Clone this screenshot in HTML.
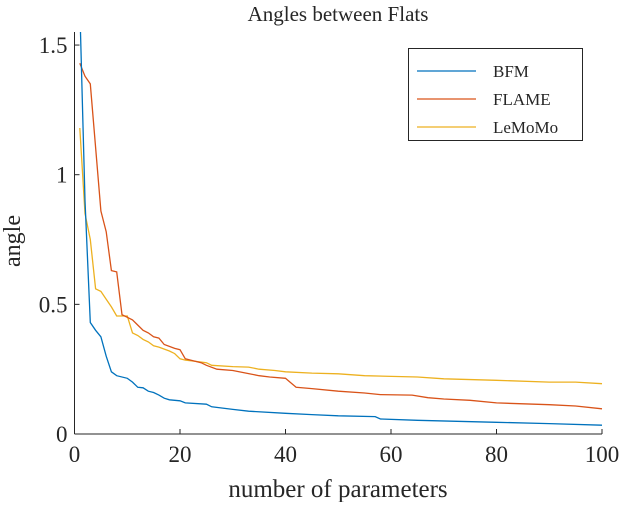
<!DOCTYPE html>
<html><head><meta charset="utf-8"><style>
body{margin:0;background:#fff}
svg text{font-family:"Liberation Serif","DejaVu Serif",serif;fill:#262626}
</style></head><body>
<svg id="chart" width="620" height="502" xmlns="http://www.w3.org/2000/svg">
<defs><clipPath id="plotclip"><rect x="74" y="32" width="530" height="404"/></clipPath></defs>
<text x="338" y="21" font-size="21" text-anchor="middle">Angles between Flats</text>
<g id="axes"></g>
<g id="series" clip-path="url(#plotclip)"></g>
<text x="338" y="497" font-size="25" text-anchor="middle">number of parameters</text>
<text x="20" y="241" font-size="24" text-anchor="middle" transform="rotate(-90 20 241)">angle</text>
<g>
<rect x="408.5" y="48.5" width="174" height="92" fill="#fff" stroke="#262626" stroke-width="1"/>
<line x1="417" y1="71" x2="476" y2="71" stroke="#0072BD" stroke-width="1.3"/>
<text x="493" y="77" font-size="17">BFM</text>
<line x1="417" y1="99" x2="476" y2="99" stroke="#D95319" stroke-width="1.3"/>
<text x="493" y="105" font-size="17">FLAME</text>
<line x1="417" y1="127" x2="476" y2="127" stroke="#EDB120" stroke-width="1.3"/>
<text x="493" y="133" font-size="17">LeMoMo</text>
</g>
</svg>
<script>
const xTicks=[0,20,40,60,80,100];
const yTicks=[0,0.5,1,1.5];
const yTickLabels=["0","0.5","1","1.5"];
const bfmX=[1,2,3,4,5,6,7,8,10,11,12,13,14,15,16,17,18,20,21,25,26,30,33,40,45,50,57,58,65,80,90,100];
const bfmY=[1.65,0.9,0.43,0.40,0.375,0.30,0.24,0.225,0.215,0.20,0.18,0.178,0.165,0.16,0.15,0.138,0.132,0.128,0.12,0.115,0.105,0.095,0.088,0.08,0.075,0.07,0.067,0.058,0.053,0.045,0.04,0.034];
const flameX=[1,2,3,5,6,7,8,9,10,11,12,13,14,15,16,17,19,20,21,22,24,25,27,30,33,35,37,40,42,45,50,55,58,64,67,70,75,80,90,95,100];
const flameY=[1.43,1.38,1.35,0.86,0.78,0.63,0.625,0.46,0.45,0.44,0.42,0.40,0.39,0.375,0.37,0.345,0.33,0.325,0.29,0.285,0.275,0.265,0.25,0.245,0.233,0.225,0.22,0.215,0.18,0.175,0.165,0.158,0.152,0.15,0.14,0.135,0.13,0.12,0.113,0.108,0.097];
const lemomoX=[1,2,3,4,5,6,7,8,10,11,12,13,14,15,16,18,19,20,21,23,25,26,30,33,35,38,40,45,50,55,65,70,80,90,95,100];
const lemomoY=[1.18,0.85,0.75,0.56,0.55,0.52,0.49,0.455,0.455,0.39,0.38,0.365,0.355,0.34,0.335,0.32,0.31,0.29,0.285,0.28,0.275,0.265,0.26,0.258,0.25,0.245,0.24,0.235,0.232,0.225,0.22,0.213,0.207,0.2,0.2,0.194];
const NS="http://www.w3.org/2000/svg";
const X0=74.5,X1=602,Y0=434,YPER=259.3;
function sx(v){return X0+(X1-X0)*v/100;}
function sy(v){return Y0-v*YPER;}
const axes=document.getElementById('axes');
function mk(tag,attrs,parent){const e=document.createElementNS(NS,tag);for(const k in attrs)e.setAttribute(k,attrs[k]);parent.appendChild(e);return e;}
let e=mk('line',{x1:X0,y1:32,x2:X0,y2:Y0,stroke:'#262626','stroke-width':1},axes);


e=mk('line',{x1:X0,y1:Y0,x2:X1,y2:Y0,stroke:'#262626','stroke-width':1},axes);


xTicks.forEach(t=>{
  const x=sx(t);
  const l=mk('line',{x1:x,y1:Y0,x2:x,y2:Y0-5,stroke:'#262626','stroke-width':1},axes);
  
  
  const tx=mk('text',{x:x,y:Y0+28,'font-size':23,'text-anchor':'middle'},axes);
  tx.textContent=String(t);
  
  
});
yTicks.forEach((t,i)=>{
  const y=sy(t);
  const l=mk('line',{x1:X0,y1:y,x2:X0+5,y2:y,stroke:'#262626','stroke-width':1},axes);
  
  
  const tx=mk('text',{x:X0-7,y:y+8,'font-size':23,'text-anchor':'end'},axes);
  tx.textContent=yTickLabels[i];
  
  
});
const series=document.getElementById('series');
function drawLine(xs,ys,color,name){
  const pts=xs.map((x,i)=>sx(x).toFixed(1)+','+sy(ys[i]).toFixed(1)).join(' ');
  const p=mk('polyline',{points:pts,fill:'none',stroke:color,'stroke-width':1.3},series);
  
  
}
drawLine(lemomoX,lemomoY,'#EDB120','line-lemomo');
drawLine(flameX,flameY,'#D95319','line-flame');
drawLine(bfmX,bfmY,'#0072BD','line-bfm');
</script>
</body></html>
